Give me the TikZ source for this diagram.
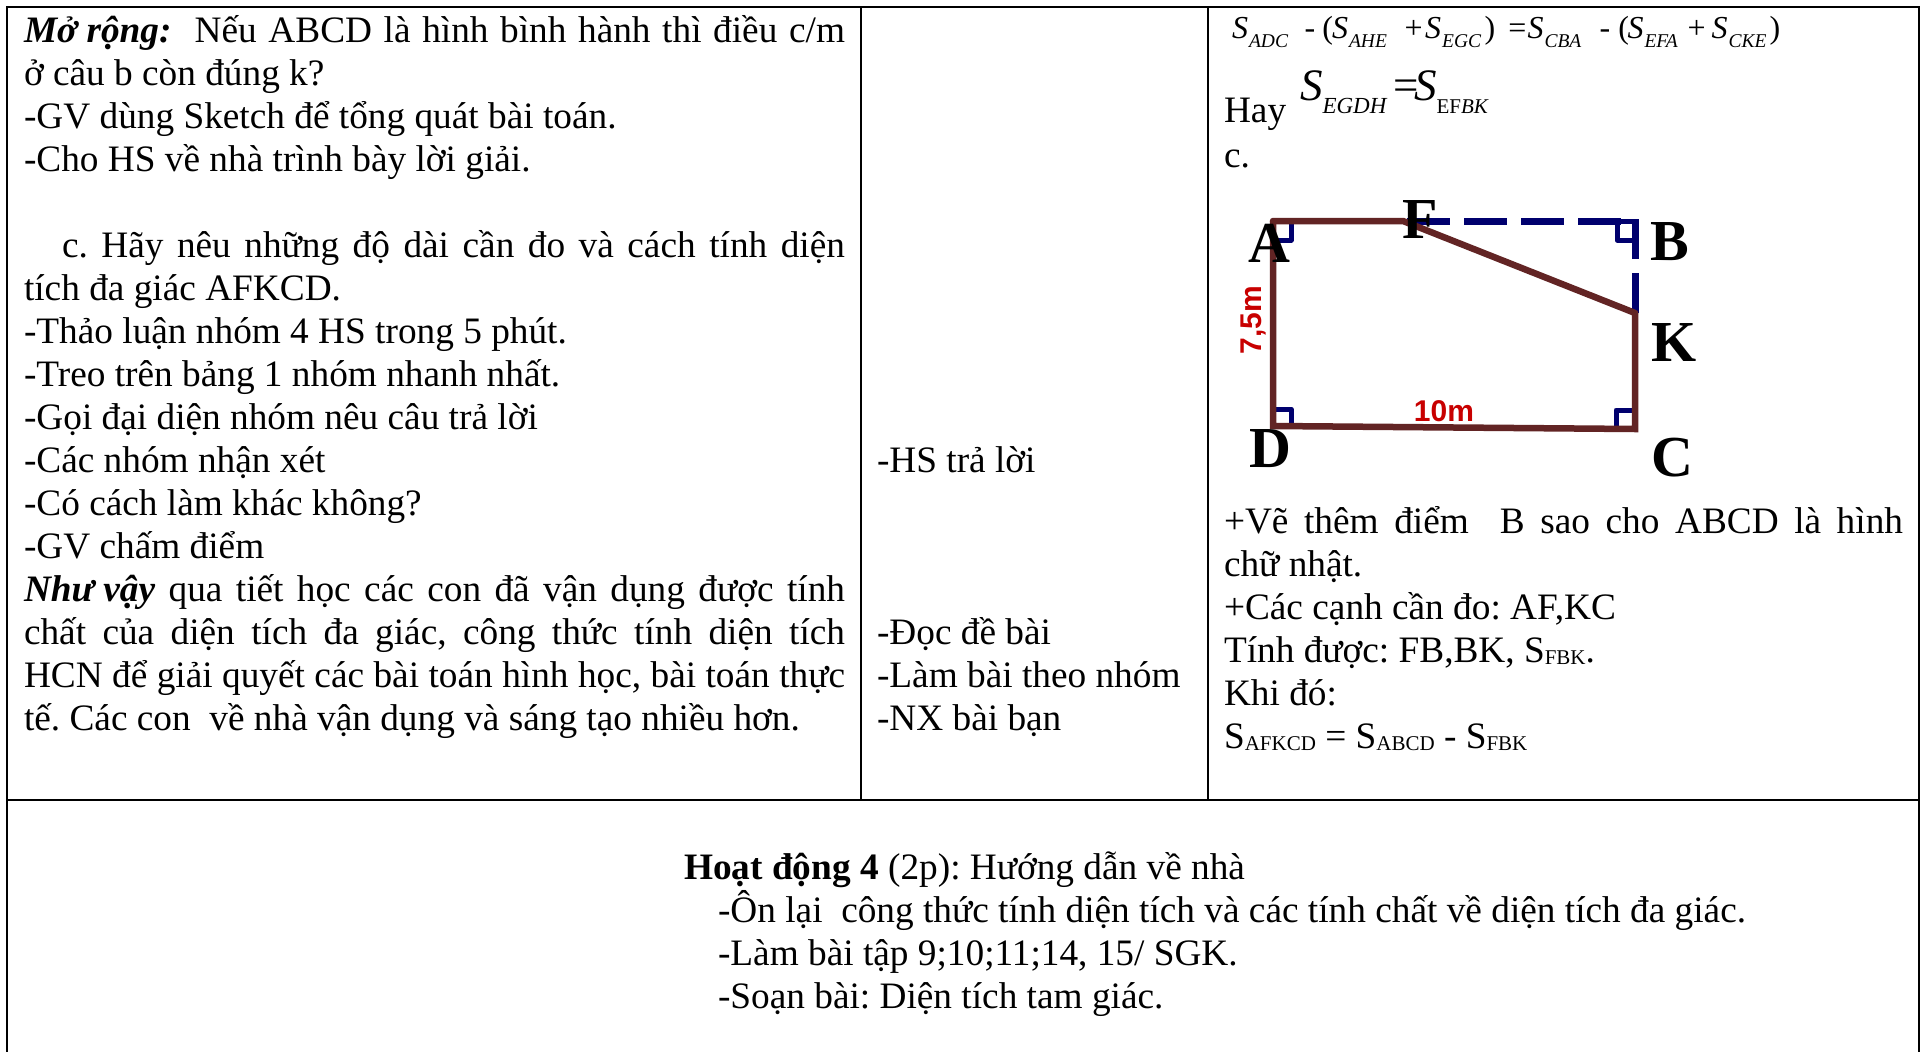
\documentclass[tikz,border=0pt]{standalone}
\usepackage{fontspec}
\setmainfont{Liberation Serif}
\newfontfamily\labelsans{Liberation Sans}
\definecolor{wallred}{RGB}{98,36,36}
\definecolor{navyline}{RGB}{0,0,110}
\definecolor{dimred}{RGB}{200,0,0}
\newcommand{\jline}[2]{\makebox[#1pt][s]{#2}}
\newcommand{\subsc}[1]{\raisebox{-2pt}{\fontsize{21}{21}\selectfont #1}}
\newcommand{\formS}[1]{{\itshape\fontsize{32}{32}\selectfont S\kern1pt\raisebox{-9pt}{\fontsize{19.5}{19.5}\selectfont #1}}}
\newcommand{\cellw}[2]{\makebox[#1pt][l]{#2}}
\begin{document}
\begin{tikzpicture}[x=1pt,y=-1pt,
  txt/.style={inner sep=0pt,outer sep=0pt,anchor=base west,font=\fontsize{37.3}{43}\selectfont\frenchspacing},
  eqn/.style={txt,font=\fontsize{32}{32}\selectfont\frenchspacing},
  rule/.style={draw=black,line width=1.8pt},
  wall/.style={draw=wallred,line width=6.5pt},
  aux/.style={draw=navyline,line width=7pt},
  anglemark/.style={draw=navyline,line width=5pt,line join=round},
  vertex/.style={inner sep=0pt,font=\bfseries\fontsize{58}{58}\selectfont},
  dimlabel/.style={inner sep=0pt,text=dimred,font=\labelsans\bfseries\fontsize{30}{30}\selectfont}]
\useasboundingbox (0,0) rectangle (1925,1052);
\fill[white] (0,0) rectangle (1925,1052);
% table rules
\coordinate (tl) at (7,7); \coordinate (tr) at (1919,7);
\coordinate (bl) at (7,1052); \coordinate (br) at (1919,1052);
\coordinate (ml) at (7,800); \coordinate (mr) at (1919,800);
\coordinate (c1t) at (861,7); \coordinate (c1b) at (861,800);
\coordinate (c2t) at (1208,7); \coordinate (c2b) at (1208,800);
\draw[rule] (bl) -- (tl) -- (tr) -- (br);
\draw[rule] (ml) -- (mr);
\draw[rule] (c1t) -- (c1b);
\draw[rule] (c2t) -- (c2b);
% left column
\node[txt] (a1) at (24,42.7) {\jline{821}{\textbf{\textit{Mở rộng:}}\hfil\hfil Nếu\hfil ABCD\hfil là\hfil hình\hfil bình\hfil hành\hfil thì\hfil điều\hfil c/m}};
\node[txt] (a2) at (24,85.7) {ở câu b còn đúng k?};
\node[txt] (a3) at (24,128.7) {-GV dùng Sketch để tổng quát bài toán.};
\node[txt] (a4) at (24,171.7) {-Cho HS về nhà trình bày lời giải.};
\node[txt] (a5) at (24,257.7) {\jline{821}{\hspace{38pt}c.\hfil Hãy\hfil nêu\hfil những\hfil độ\hfil dài\hfil cần\hfil đo\hfil và\hfil cách\hfil tính\hfil diện}};
\node[txt] (a6) at (24,300.7) {tích đa giác AFKCD.};
\node[txt] (a7) at (24,343.7) {-Thảo luận nhóm 4 HS trong 5 phút.};
\node[txt] (a8) at (24,386.7) {-Treo trên bảng 1 nhóm nhanh nhất.};
\node[txt] (a9) at (24,429.7) {-Gọi đại diện nhóm nêu câu trả lời};
\node[txt] (a10) at (24,472.7) {-Các nhóm nhận xét};
\node[txt] (a11) at (24,515.7) {-Có cách làm khác không?};
\node[txt] (a12) at (24,558.7) {-GV chấm điểm};
\node[txt] (a13) at (24,601.7) {\jline{821}{\textbf{\textit{Như vậy}}\hfil qua\hfil tiết\hfil học\hfil các\hfil con\hfil đã\hfil vận\hfil dụng\hfil được\hfil tính}};
\node[txt] (a14) at (24,644.7) {\jline{821}{chất\hfil của\hfil diện\hfil tích\hfil đa\hfil giác,\hfil công\hfil thức\hfil tính\hfil diện\hfil tích}};
\node[txt] (a15) at (24,687.7) {\jline{821}{HCN\hfil để\hfil giải\hfil quyết\hfil các\hfil bài\hfil toán\hfil hình\hfil học,\hfil bài\hfil toán\hfil thực}};
\node[txt] (a16) at (24,730.7) {tế. Các con\ \ về nhà vận dụng và sáng tạo nhiều hơn.};
% middle column
\node[txt] (b1) at (877,472.7) {-HS trả lời};
\node[txt] (b2) at (877,644.7) {-Đọc đề bài};
\node[txt] (b3) at (877,687.7) {-Làm bài theo nhóm};
\node[txt] (b4) at (877,730.7) {-NX bài bạn};
% right column
\node[eqn] (f1) at (1232,38) {\cellw{72.5}{\formS{ADC}}\cellw{18}{-}\cellw{9.5}{(}\cellw{72.5}{\formS{AHE}}\cellw{20.6}{+}\cellw{59.4}{\formS{EGC}}\cellw{24}{)}\cellw{19}{=}\cellw{72}{\formS{CBA}}\cellw{19}{-}\cellw{9}{(}\cellw{60}{\formS{EFA}}\cellw{24}{+}\cellw{58}{\formS{CKE}})};
\node[txt] (h1) at (1224,122.7) {Hay};
\node[txt,font=\fontsize{45}{45}\selectfont] (h2) at (1300,100) {\cellw{93}{\itshape S\raisebox{-13pt}{\fontsize{23}{23}\selectfont EGDH}}\cellw{21}{=}{\itshape S}\raisebox{-13pt}{\fontsize{21}{21}\selectfont EF\itshape BK}};
\node[txt] (h3) at (1224,167.7) {c.};
% figure
\coordinate (A) at (1273,221);
\coordinate (F) at (1403,221);
\coordinate (B) at (1635,221);
\coordinate (K) at (1635,313);
\coordinate (C) at (1635,429);
\coordinate (D) at (1273,426);
\coordinate (Fd) at (1407,221);
\coordinate (Bd) at (1621,221);
\coordinate (Bt) at (1635,219);
\coordinate (Bm) at (1635,259);
\coordinate (Kn) at (1635,273);
\draw[anglemark] (1275,240) -- (1291,240) -- (1291,222);
\draw[anglemark] (1635,240) -- (1617,240) -- (1617,221) -- (1635,221);
\draw[anglemark] (1275,409) -- (1291,409) -- (1291,427);
\draw[anglemark] (1634,410) -- (1616,410) -- (1616,428);
\draw[aux,dash pattern=on 43pt off 14pt] (Fd) -- (Bd);
\draw[aux] (Bt) -- (Bm);
\draw[aux] (Kn) -- (K);
\draw[wall,line cap=round] (A) -- (F) -- (K);
\draw[wall] (K) -- (C) -- (D) -- (A);
\node[vertex] (vA) at (1269,243) {A};
\node[vertex] (vF) at (1420,220) {F};
\node[vertex] (vB) at (1670,242) {B};
\node[vertex] (vK) at (1674,343) {K};
\node[vertex] (vC) at (1672,458) {C};
\node[vertex] (vD) at (1270,449) {D};
\node[dimlabel,rotate=90] (d1) at (1253,320) {7,5m};
\node[dimlabel] (d2) at (1444,411) {10m};
% notes
\node[txt] (n1) at (1224,533.7) {\jline{679}{+Vẽ\hfil thêm\hfil điểm\hfil\hfil B\hfil sao\hfil cho\hfil ABCD\hfil là\hfil hình}};
\node[txt] (n2) at (1224,576.7) {chữ nhật.};
\node[txt] (n3) at (1224,619.7) {+Các cạnh cần đo: AF,KC};
\node[txt] (n4) at (1224,662.7) {Tính được: FB,BK, S\subsc{FBK}.};
\node[txt] (n5) at (1224,705.7) {Khi đó:};
\node[txt] (n6) at (1224,748.7) {S\subsc{AFKCD} = S\subsc{ABCD} - S\subsc{FBK}};
% bottom
\node[txt] (z1) at (684,879.7) {\textbf{Hoạt động 4} (2p): Hướng dẫn về nhà};
\node[txt] (z2) at (718,922.7) {-Ôn lại\ \ công thức tính diện tích và các tính chất về diện tích đa giác.};
\node[txt] (z3) at (718,965.7) {-Làm bài tập 9;10;11;14, 15/ SGK.};
\node[txt] (z4) at (718,1008.7) {-Soạn bài: Diện tích tam giác.};
\end{tikzpicture}
\end{document}
